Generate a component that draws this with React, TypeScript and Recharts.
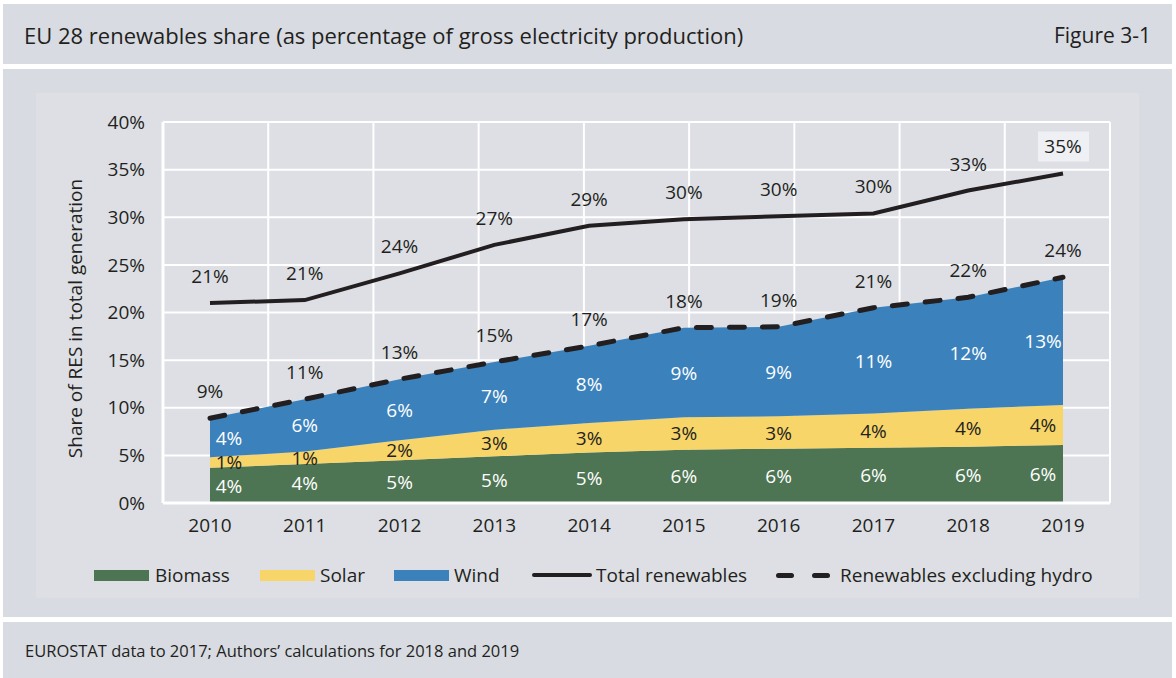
import { ComposedChart, Area, Line, XAxis, YAxis, CartesianGrid, LabelList } from "recharts";

const years = ["2010", "2011", "2012", "2013", "2014", "2015", "2016", "2017", "2018", "2019"];
const biomass = [3.7, 4.1, 4.5, 4.9, 5.3, 5.6, 5.7, 5.8, 5.9, 6.1];
const solar = [1.1, 1.3, 2.1, 2.8, 3.1, 3.4, 3.4, 3.6, 4.0, 4.2];
const wind = [4.1, 5.5, 6.4, 7.1, 8.1, 9.4, 9.4, 11.1, 11.7, 13.4];
const exclHydro = [8.9, 10.9, 13.0, 14.8, 16.5, 18.4, 18.5, 20.5, 21.6, 23.7];
const totalRenewables = [21.0, 21.3, 24.1, 27.1, 29.1, 29.8, 30.1, 30.4, 32.8, 34.6];
const yTicks = [0, 5, 10, 15, 20, 25, 30, 35, 40];
const bandEdges = [0, 1, 2, 3, 4, 5, 6, 7, 8, 9, 10];

// mid points are only used to place the in-band labels
const data = years.map((year, i) => ({
  year,
  biomass: biomass[i],
  solar: solar[i],
  wind: wind[i],
  exclHydro: exclHydro[i],
  total: totalRenewables[i],
  biomassMid: biomass[i] / 2,
  solarMid: biomass[i] + solar[i] / 2,
  windMid: biomass[i] + solar[i] + wind[i] / 2,
}));

const FONT = "'Open Sans', sans-serif";
const INK = "#231f20";
const PANEL = "#d8dbe2";
const INNER = "#dddfe5";
const GREEN = "#4e7553";
const YELLOW = "#f8d568";
const BLUE = "#3b82bd";

const bandLabel = (values: number[], color: string, nudge = 0) => (props: any) => {
  const { x, y, index } = props;
  if (x == null || y == null) return null;
  const dx = index === 0 ? 19 : index === values.length - 1 ? -20 : 0;
  const dy = index === 0 ? nudge : 0;
  return (
    <text x={x + dx} y={y + dy} fill={color} fontSize={19} fontFamily={FONT} textAnchor="middle" dominantBaseline="central">
      {Math.round(values[index])}%
    </text>
  );
};

const lineLabel = (values: number[], boxLast: boolean) => (props: any) => {
  const { x, y, index } = props;
  if (x == null || y == null) return null;
  const ty = y - 27;
  return (
    <g>
      {boxLast && index === values.length - 1 && <rect x={x - 25} y={ty - 15} width={51} height={30} fill="#eef0f3" />}
      <text x={x} y={ty} fill={INK} fontSize={19} fontFamily={FONT} textAnchor="middle" dominantBaseline="central">
        {Math.round(values[index])}%
      </text>
    </g>
  );
};

const yTitle = (props: any) => {
  const vb = props.viewBox || {};
  const cx = vb.x + vb.width - 88;
  const cy = vb.y + vb.height / 2 + 6;
  return (
    <text x={cx} y={cy} transform={`rotate(-90 ${cx} ${cy})`} fill={INK} fontSize={19} fontFamily={FONT} textAnchor="middle" dominantBaseline="central">
      Share of RES in total generation
    </text>
  );
};

function Swatch({ left, color }: { left: number; color: string }) {
  return <div style={{ position: "absolute", left, top: 570, width: 55, height: 11, background: color }} />;
}

function LegendText({ left, text }: { left: number; text: string }) {
  return <div style={{ position: "absolute", left, top: 562, lineHeight: "26px", fontSize: 19, color: INK, whiteSpace: "nowrap" }}>{text}</div>;
}

export default function App() {
  return (
    <div style={{ position: "absolute", left: 0, top: 0, width: 1176, height: 678, background: "#fff", fontFamily: FONT, overflow: "hidden" }}>
      <div style={{ position: "absolute", left: 3, top: 4, width: 1169, height: 60, background: PANEL }} />
      <div style={{ position: "absolute", left: 24, top: 24, fontSize: 22, lineHeight: "22px", color: INK, whiteSpace: "nowrap" }}>
        EU 28 renewables share (as percentage of gross electricity production)
      </div>
      <div style={{ position: "absolute", right: 25, top: 25, fontSize: 21, lineHeight: "21px", color: INK }}>Figure 3-1</div>

      <div style={{ position: "absolute", left: 3, top: 69, width: 1169, height: 548, background: PANEL }} />
      <div style={{ position: "absolute", left: 36, top: 93, width: 1103, height: 505, background: INNER }}>
        <ComposedChart width={1103} height={505} data={data} margin={{ top: 29, right: 29, bottom: 65, left: 67 }}>
          <XAxis xAxisId="grid" type="number" domain={[0, 10]} ticks={bandEdges} hide allowDataOverflow />
          <CartesianGrid xAxisId="grid" stroke="#ffffff" strokeWidth={2} />
          <XAxis
            dataKey="year"
            padding={{ left: 47, right: 47 }}
            interval={0}
            axisLine={{ stroke: "#ffffff", strokeWidth: 3 }}
            tickLine={false}
            tickMargin={10}
            tick={{ fill: INK, fontSize: 19, fontFamily: FONT }}
          />
          <YAxis
            domain={[0, 40]}
            ticks={yTicks}
            width={60}
            tickFormatter={(v: number) => `${v}%`}
            axisLine={{ stroke: "#ffffff", strokeWidth: 3 }}
            tickLine={false}
            tickMargin={12}
            tick={{ fill: INK, fontSize: 19, fontFamily: FONT }}
            label={yTitle}
          />
          <Area type="linear" dataKey="biomass" stackId="res" stroke="none" fill={GREEN} fillOpacity={1} isAnimationActive={false} />
          <Area type="linear" dataKey="solar" stackId="res" stroke="none" fill={YELLOW} fillOpacity={1} isAnimationActive={false} />
          <Area type="linear" dataKey="wind" stackId="res" stroke="none" fill={BLUE} fillOpacity={1} isAnimationActive={false} />

          <Line dataKey="biomassMid" stroke="none" dot={false} activeDot={false} isAnimationActive={false}>
            <LabelList dataKey="biomass" content={bandLabel(biomass, "#ffffff", 1)} />
          </Line>
          <Line dataKey="solarMid" stroke="none" dot={false} activeDot={false} isAnimationActive={false}>
            <LabelList dataKey="solar" content={bandLabel(solar, INK, -1)} />
          </Line>
          <Line dataKey="windMid" stroke="none" dot={false} activeDot={false} isAnimationActive={false}>
            <LabelList dataKey="wind" content={bandLabel(wind, "#ffffff")} />
          </Line>

          <Line
            type="linear"
            dataKey="exclHydro"
            stroke={INK}
            strokeWidth={5}
            strokeDasharray="15 18"
            strokeLinecap="round"
            dot={false}
            activeDot={false}
            isAnimationActive={false}
          >
            <LabelList dataKey="exclHydro" content={lineLabel(exclHydro, false)} />
          </Line>
          <Line type="linear" dataKey="total" stroke={INK} strokeWidth={4} dot={false} activeDot={false} isAnimationActive={false}>
            <LabelList dataKey="total" content={lineLabel(totalRenewables, true)} />
          </Line>
        </ComposedChart>
      </div>

      <Swatch left={94} color={GREEN} />
      <LegendText left={155} text="Biomass" />
      <Swatch left={260} color={YELLOW} />
      <LegendText left={320} text="Solar" />
      <Swatch left={394} color={BLUE} />
      <LegendText left={454} text="Wind" />
      <div style={{ position: "absolute", left: 532, top: 573, width: 60, height: 4, background: INK, borderRadius: 2 }} />
      <LegendText left={596} text="Total renewables" />
      <div style={{ position: "absolute", left: 776, top: 573, width: 18, height: 5, background: INK, borderRadius: 3 }} />
      <div style={{ position: "absolute", left: 812, top: 573, width: 18, height: 5, background: INK, borderRadius: 3 }} />
      <LegendText left={840} text="Renewables excluding hydro" />

      <div style={{ position: "absolute", left: 3, top: 622, width: 1169, height: 56, background: PANEL }} />
      <div style={{ position: "absolute", left: 25, top: 641, fontSize: 16.5, lineHeight: "20px", color: INK, whiteSpace: "nowrap" }}>
        EUROSTAT data to 2017; Authors’ calculations for 2018 and 2019
      </div>
    </div>
  );
}
